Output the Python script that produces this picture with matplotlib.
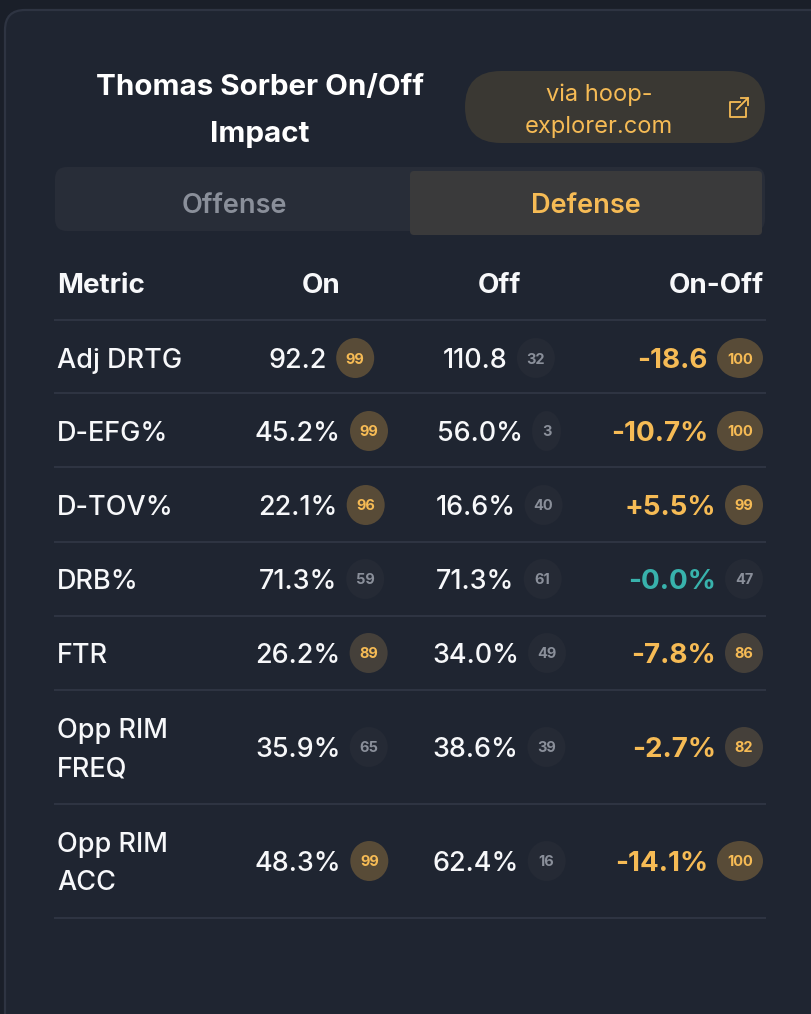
import matplotlib
matplotlib.use("Agg")
import matplotlib.pyplot as plt
from matplotlib.patches import Ellipse, FancyBboxPatch

plt.rcParams['font.family'] = ['Inter', 'DejaVu Sans']

metrics = ["Adj DRTG", "D-EFG%", "D-TOV%", "DRB%", "FTR", "Opp RIM\nFREQ", "Opp RIM\nACC"]
on_values = ["92.2", "45.2%", "22.1%", "71.3%", "26.2%", "35.9%", "48.3%"]
on_pcts = [99, 99, 96, 59, 89, 65, 99]
off_values = ["110.8", "56.0%", "16.6%", "71.3%", "34.0%", "38.6%", "62.4%"]
off_pcts = [32, 3, 40, 61, 49, 39, 16]
diff_values = ["-18.6", "-10.7%", "+5.5%", "-0.0%", "-7.8%", "-2.7%", "-14.1%"]
diff_pcts = [100, 100, 99, 47, 86, 82, 100]
headers = ["Metric", "On", "Off", "On-Off"]

BG = "#1a1f29"
CARD = "#1f2531"
BORDER = "#2e3442"
ORANGE = "#f6bb55"
TEAL = "#38b2ac"
WHITE = "#f7f8fa"
GREY = "#8a8f9a"

# row layout in pixels
row_y = [358, 431, 505, 579, 653, 747, 861]
rule_y = [320, 393, 467, 542, 616, 690, 804, 918]
on_x = 321.5
off_x = 499
diff_right = 763

fig = plt.figure(figsize=(8.12, 10.14), dpi=100, facecolor=BG)
ax = fig.add_axes([0, 0, 1, 1])
ax.set_xlim(0, 812)
ax.set_ylim(1014, 0)
ax.axis("off")
renderer = fig.canvas.get_renderer()


def rounded(x0, y0, x1, y1, r, fc, ec="none", lw=0, z=1):
    p = FancyBboxPatch((x0 + r, y0 + r), x1 - x0 - 2 * r, y1 - y0 - 2 * r,
                       boxstyle=f"round,pad={r},rounding_size={r}",
                       fc=fc, ec=ec, lw=lw, zorder=z)
    ax.add_patch(p)
    return p


def badge_style(pct):
    if pct >= 90:
        return "#584b37", ORANGE
    if pct >= 80:
        return "#45403a", ORANGE
    return "#252a35", GREY


def badge_width(pct):
    return {1: 29, 2: 38, 3: 46}[len(str(pct))]


def draw_cell(value, pct, y, center=None, right=None, color=WHITE, weight=500, size=19.4):
    t = ax.text(0, y, value, color=color, fontsize=size, fontweight=weight,
                ha="left", va="center_baseline", zorder=3)
    w = t.get_window_extent(renderer).width
    bw = badge_width(pct)
    gap = 9
    if right is None:
        left = center - (w + gap + bw) / 2
    else:
        left = right - (w + gap + bw)
    t.set_x(left)
    bx = left + w + gap
    fc, tc = badge_style(pct)
    ax.add_patch(Ellipse((bx + bw / 2, y), bw, 40, fc=fc, ec="none", zorder=2))
    ax.text(bx + bw / 2, y, str(pct), color=tc, fontsize=10.5, fontweight="bold",
            ha="center", va="center_baseline", zorder=3)


# card
rounded(5, 10, 860, 1060, 20, CARD, ec=BORDER, lw=1.6)

# title and link pill
ax.text(260, 85, "Thomas Sorber On/Off", color="white", fontsize=21.3, fontweight="bold",
        ha="center", va="center_baseline")
ax.text(260, 132, "Impact", color="white", fontsize=21.3, fontweight="bold",
        ha="center", va="center_baseline")
rounded(465, 71, 765, 143, 36, "#3a3833")
ax.text(599, 92, "via hoop-", color=ORANGE, fontsize=17, ha="center", va="center_baseline")
ax.text(599, 124, "explorer.com", color=ORANGE, fontsize=17, ha="center", va="center_baseline")

# external link icon
ax.plot([740, 730, 730, 746, 746], [102, 102, 117, 117, 108], color=ORANGE, lw=1.3, zorder=3)
ax.plot([737, 748], [109, 98], color=ORANGE, lw=1.3, zorder=3)
ax.plot([741, 748, 748], [98, 98, 105], color=ORANGE, lw=1.3, zorder=3)

# tabs
rounded(55, 167, 765, 231, 12, "#282d38")
rounded(410, 171, 762, 235, 4, "#3a3a3b", z=2)
ax.text(234, 203, "Offense", color=GREY, fontsize=19.5, fontweight="semibold",
        ha="center", va="center_baseline", zorder=3)
ax.text(586, 203, "Defense", color=ORANGE, fontsize=19.5, fontweight="semibold",
        ha="center", va="center_baseline", zorder=3)

# header
ax.text(57, 283, headers[0], color=WHITE, fontsize=20, fontweight="bold", va="center_baseline")
ax.text(on_x, 283, headers[1], color=WHITE, fontsize=20, fontweight="bold", ha="center", va="center_baseline")
ax.text(off_x, 283, headers[2], color=WHITE, fontsize=20, fontweight="bold", ha="center", va="center_baseline")
ax.text(diff_right + 1, 283, headers[3], color=WHITE, fontsize=20, fontweight="bold", ha="right", va="center_baseline")

for y in rule_y:
    ax.plot([55, 765], [y, y], color=BORDER, lw=1.5, zorder=1.5)

for i, y in enumerate(row_y):
    lines = metrics[i].split("\n")
    if len(lines) == 1:
        ax.text(57, y, lines[0], color=WHITE, fontsize=19.5, fontweight=500, va="center_baseline")
    else:
        ax.text(57, y - 19, lines[0], color=WHITE, fontsize=19.5, fontweight=500, va="center_baseline")
        ax.text(57, y + 19, lines[1], color=WHITE, fontsize=19.5, fontweight=500, va="center_baseline")
    draw_cell(on_values[i], on_pcts[i], y, center=on_x)
    draw_cell(off_values[i], off_pcts[i], y, center=off_x)
    diff_color = ORANGE if diff_pcts[i] >= 80 else TEAL
    draw_cell(diff_values[i], diff_pcts[i], y, right=diff_right, color=diff_color, weight="bold", size=20)

fig.savefig("out.png", dpi=100, facecolor=BG)
